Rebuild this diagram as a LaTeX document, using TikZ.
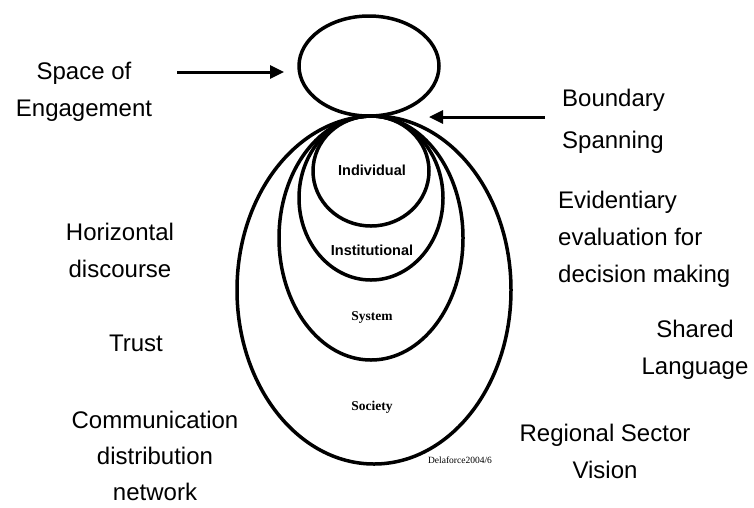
\documentclass[tikz,border=0pt]{standalone}
\usepackage{fontspec}
\setmainfont{Liberation Sans}
\newfontfamily\tnr{Liberation Serif}
\usetikzlibrary{shapes.geometric,arrows.meta}
\begin{document}
\begin{tikzpicture}[x=1pt,y=-1pt,
  ring/.style={draw,ellipse,line width=3.5pt,inner sep=0pt},
  lbl/.style={font=\fontsize{24}{37}\selectfont,align=center,inner sep=0pt},
  lbll/.style={font=\fontsize{24}{37}\selectfont,align=left,inner sep=0pt},
  inlbl/.style={font=\fontsize{14.5}{16}\selectfont\bfseries,inner sep=0pt},
  serlbl/.style={font=\fontsize{13.5}{15}\selectfont\tnr\bfseries,inner sep=0pt},
  arr/.style={line width=3pt,-{Triangle[length=14pt,width=13pt]}}]
\useasboundingbox[fill=white] (0,0) rectangle (754,507);
% ellipses
\node[ring,minimum width=140pt,minimum height=100pt] (engage) at (369,66) {};
\node[ring,minimum width=274pt,minimum height=348pt] (society) at (374,290) {};
\node[ring,minimum width=184pt,minimum height=244pt] (system) at (371,238) {};
\node[ring,minimum width=144pt,minimum height=164pt] (instit) at (371,198) {};
\node[ring,minimum width=116pt,minimum height=110pt] (indiv) at (371,171) {};
% inner labels
\node[inlbl] (tindiv) at (372,170) {Individual};
\node[inlbl] (tinst) at (372,250) {Institutional};
\node[serlbl] (tsys) at (372,317) {System};
\node[serlbl] (tsoc) at (372,407) {Society};
\node[font=\fontsize{9.5}{10}\selectfont\tnr,inner sep=0pt] (credit) at (460,460) {Delaforce2004/6};
% outer labels
\node[lbl] (space) at (84,92) {Space of\\Engagement};
\node[font=\fontsize{24}{42}\selectfont,align=left,inner sep=0pt,anchor=west] (bound) at (562,121) {Boundary\\Spanning};
\node[lbll,anchor=west] (evid) at (558,239) {Evidentiary\\evaluation for\\decision making};
\node[lbl] (shared) at (695,350) {Shared\\Language};
\node[lbl] (region) at (605,451) {Regional Sector\\Vision};
\node[lbl] (horiz) at (120,250) {Horizontal\\discourse};
\node[lbl] (trust) at (136,343) {Trust};
\node[font=\fontsize{24}{36}\selectfont,align=center,inner sep=0pt,anchor=north] (comm) at (155,411) {Communication\\distribution\\network};
% arrows
\coordinate (a1s) at (177,72);
\coordinate (a1e) at (284,72);
\coordinate (a2s) at (545,117);
\coordinate (a2e) at (429,117);
\draw[arr] (a1s) -- (a1e);
\draw[arr] (a2s) -- (a2e);
\end{tikzpicture}
\end{document}
